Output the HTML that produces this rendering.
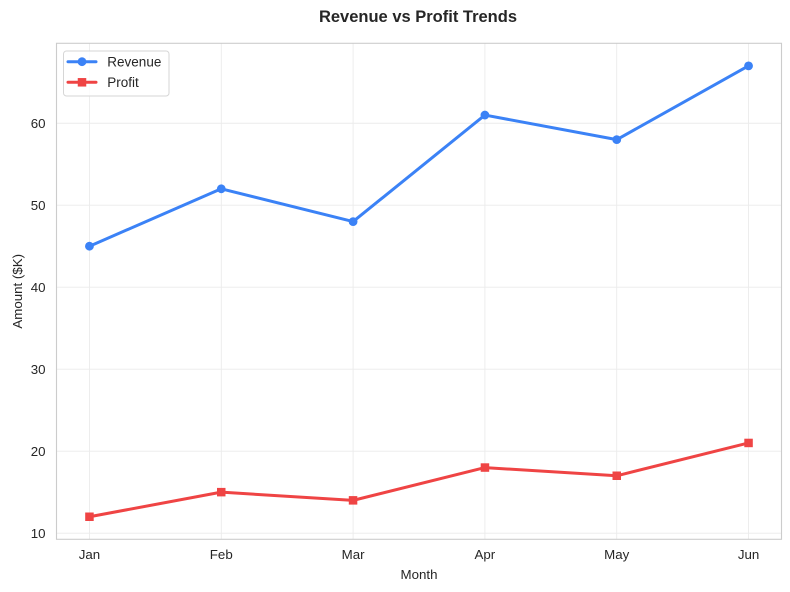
<!DOCTYPE html>
<html><head><meta charset="utf-8"><style>
html,body{margin:0;padding:0;background:#fff;}
svg{display:block;font-family:"Liberation Sans",Arial,sans-serif;}
</style></head><body>
<svg width="790" height="592" viewBox="0 0 790 592" xmlns="http://www.w3.org/2000/svg">
<rect width="790" height="592" fill="#fff"/>
<g stroke="#ebebeb" stroke-width="0.9">
<line x1="89.45" y1="43.3" x2="89.45" y2="539.3"/>
<line x1="221.27" y1="43.3" x2="221.27" y2="539.3"/>
<line x1="353.09" y1="43.3" x2="353.09" y2="539.3"/>
<line x1="484.91" y1="43.3" x2="484.91" y2="539.3"/>
<line x1="616.73" y1="43.3" x2="616.73" y2="539.3"/>
<line x1="748.55" y1="43.3" x2="748.55" y2="539.3"/>
<line x1="56.5" y1="533.15" x2="781.5" y2="533.15"/>
<line x1="56.5" y1="451.17" x2="781.5" y2="451.17"/>
<line x1="56.5" y1="369.19" x2="781.5" y2="369.19"/>
<line x1="56.5" y1="287.21" x2="781.5" y2="287.21"/>
<line x1="56.5" y1="205.23" x2="781.5" y2="205.23"/>
<line x1="56.5" y1="123.25" x2="781.5" y2="123.25"/>
</g>
<rect x="56.5" y="43.3" width="725" height="496" fill="none" stroke="#cccccc" stroke-width="1.1"/>
<polyline fill="none" stroke="#3b82f6" stroke-width="3" stroke-linejoin="round" stroke-linecap="round" points="89.45,246.2 221.27,188.8 353.09,221.6 484.91,115.05 616.73,139.65 748.55,65.87"/>
<g fill="#3b82f6">
<circle cx="89.45" cy="246.2" r="4.4"/><circle cx="221.27" cy="188.8" r="4.4"/><circle cx="353.09" cy="221.6" r="4.4"/><circle cx="484.91" cy="115.05" r="4.4"/><circle cx="616.73" cy="139.65" r="4.4"/><circle cx="748.55" cy="65.87" r="4.4"/>
</g>
<polyline fill="none" stroke="#ef4444" stroke-width="3" stroke-linejoin="round" stroke-linecap="round" points="89.45,516.76 221.27,492.16 353.09,500.36 484.91,467.57 616.73,475.77 748.55,442.97"/>
<g fill="#ef4444">
<rect x="85.2" y="512.5" width="8.5" height="8.5"/><rect x="217.0" y="487.9" width="8.5" height="8.5"/><rect x="348.8" y="496.1" width="8.5" height="8.5"/><rect x="480.7" y="463.3" width="8.5" height="8.5"/><rect x="612.5" y="471.5" width="8.5" height="8.5"/><rect x="744.3" y="438.7" width="8.5" height="8.5"/>
</g>
<g fill="#262626" font-size="13.3" text-anchor="end">
<text x="45.5" y="537.9">10</text>
<text x="45.5" y="455.9">20</text>
<text x="45.5" y="373.9">30</text>
<text x="45.5" y="291.9">40</text>
<text x="45.5" y="209.9">50</text>
<text x="45.5" y="128">60</text>
</g>
<g fill="#262626" font-size="13.3" text-anchor="middle">
<text x="89.45" y="559">Jan</text>
<text x="221.27" y="559">Feb</text>
<text x="353.09" y="559">Mar</text>
<text x="484.91" y="559">Apr</text>
<text x="616.73" y="559">May</text>
<text x="748.55" y="559">Jun</text>
<text x="419" y="579">Month</text>
<text transform="translate(22,291.3) rotate(-90)">Amount ($K)</text>
</g>
<text x="418" y="22" fill="#262626" font-size="16.5" font-weight="bold" text-anchor="middle">Revenue vs Profit Trends</text>
<rect x="63.5" y="51" width="105.5" height="45" rx="3" fill="#fff" fill-opacity="0.8" stroke="#d6d6d6" stroke-width="1"/>
<line x1="68" y1="61.7" x2="96" y2="61.7" stroke="#3b82f6" stroke-width="3" stroke-linecap="round"/>
<circle cx="82" cy="61.7" r="4.4" fill="#3b82f6"/>
<line x1="68" y1="82.3" x2="96" y2="82.3" stroke="#ef4444" stroke-width="3" stroke-linecap="round"/>
<rect x="77.75" y="78.05" width="8.5" height="8.5" fill="#ef4444"/>
<g fill="#262626" font-size="13.5">
<text x="107.3" y="66.5">Revenue</text>
<text x="107.3" y="87.2">Profit</text>
</g>
</svg>
</body></html>
